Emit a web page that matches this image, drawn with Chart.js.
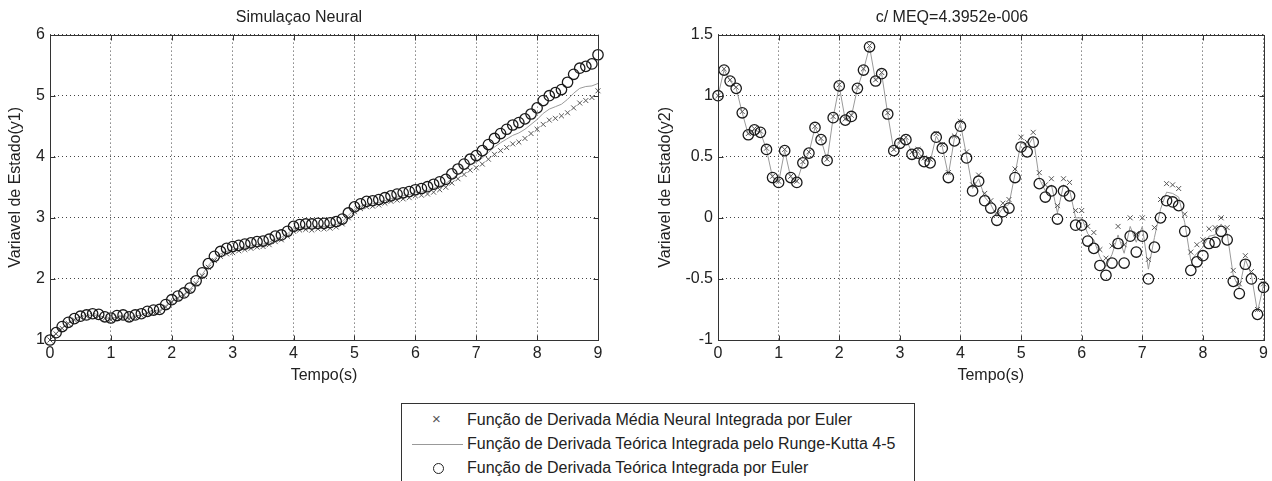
<!DOCTYPE html>
<html>
<head>
<meta charset="utf-8">
<script src="https://cdn.jsdelivr.net/npm/chart.js@4.4.0/dist/chart.umd.min.js"></script>
<style>
  body { margin: 0; background: #fff; width: 1272px; height: 481px; overflow: hidden; position: relative;
         font-family: "Liberation Sans", Arial, sans-serif; }
  #c1 { position: absolute; left: 0; top: 0; }
  #c2 { position: absolute; left: 640px; top: 0; }
  #legend { position: absolute; left: 401px; top: 403px; width: 512px; height: 90px;
            border: 1px solid #333; background: #fff; }
  .row { position: absolute; left: 0; height: 24px; width: 100%; }
  .row span.txt { position: absolute; left: 65px; top: 3px; font-size: 16px; color: #222; white-space: nowrap; }
  .sym-x { position: absolute; left: 30px; top: 2px; font-size: 15px; color: #555; }
  .sym-line { position: absolute; left: 10px; top: 12px; width: 51px; border-top: 1px solid #999; }
  .sym-o { position: absolute; left: 31px; top: 7px; width: 9px; height: 9px; border: 1.3px solid #222; border-radius: 50%; }
</style>
</head>
<body>
<canvas id="c1" width="640" height="400"></canvas>
<canvas id="c2" width="632" height="400"></canvas>
<div id="legend">
  <div class="row" style="top:4px"><span class="sym-x">×</span><span class="txt">Função de Derivada Média Neural Integrada por Euler</span></div>
  <div class="row" style="top:28px"><span class="sym-line"></span><span class="txt">Função de Derivada Teórica Integrada pelo Runge-Kutta 4-5</span></div>
  <div class="row" style="top:52px"><span class="sym-o"></span><span class="txt">Função de Derivada Teórica Integrada por Euler</span></div>
</div>
<script>
// tempo (s), passo 0.1
const tempo = [0,0.1,0.2,0.3,0.4,0.5,0.6,0.7,0.8,0.9,1,1.1,1.2,1.3,1.4,1.5,1.6,1.7,1.8,1.9,
  2,2.1,2.2,2.3,2.4,2.5,2.6,2.7,2.8,2.9,3,3.1,3.2,3.3,3.4,3.5,3.6,3.7,3.8,3.9,
  4,4.1,4.2,4.3,4.4,4.5,4.6,4.7,4.8,4.9,5,5.1,5.2,5.3,5.4,5.5,5.6,5.7,5.8,5.9,
  6,6.1,6.2,6.3,6.4,6.5,6.6,6.7,6.8,6.9,7,7.1,7.2,7.3,7.4,7.5,7.6,7.7,7.8,7.9,
  8,8.1,8.2,8.3,8.4,8.5,8.6,8.7,8.8,8.9,9];

// y1
const y1Neural = [1.00,1.10,1.19,1.27,1.33,1.37,1.39,1.40,1.39,1.35,1.33,1.36,1.37,1.34,1.37,1.40,1.44,1.45,1.46,1.54,
  1.62,1.68,1.73,1.81,1.92,2.05,2.19,2.30,2.37,2.41,2.43,2.46,2.48,2.50,2.52,2.53,2.56,2.61,2.64,2.70,
  2.78,2.80,2.81,2.80,2.82,2.82,2.83,2.85,2.90,3.00,3.10,3.15,3.18,3.19,3.21,3.24,3.27,3.29,3.31,3.33,
  3.36,3.37,3.39,3.42,3.46,3.50,3.57,3.64,3.71,3.78,3.82,3.88,3.96,4.04,4.10,4.15,4.21,4.24,4.30,4.38,
  4.45,4.53,4.60,4.63,4.67,4.72,4.80,4.88,4.92,4.97,5.08];
const y1RK = [1.00,1.11,1.20,1.28,1.34,1.38,1.40,1.41,1.40,1.37,1.34,1.38,1.39,1.36,1.39,1.41,1.45,1.47,1.48,1.56,
  1.64,1.70,1.75,1.83,1.94,2.07,2.22,2.33,2.41,2.45,2.48,2.50,2.52,2.54,2.56,2.57,2.60,2.65,2.68,2.74,
  2.82,2.84,2.85,2.85,2.86,2.86,2.87,2.89,2.94,3.04,3.14,3.19,3.22,3.23,3.25,3.28,3.31,3.34,3.36,3.38,
  3.41,3.42,3.45,3.48,3.52,3.56,3.64,3.71,3.79,3.86,3.91,3.98,4.07,4.16,4.23,4.29,4.35,4.39,4.45,4.53,
  4.61,4.71,4.78,4.82,4.86,4.94,5.04,5.12,5.15,5.16,5.20];
const y1Euler = [1.00,1.12,1.22,1.29,1.35,1.39,1.41,1.43,1.42,1.38,1.36,1.40,1.41,1.38,1.41,1.43,1.47,1.49,1.50,1.58,
  1.66,1.72,1.77,1.85,1.97,2.10,2.25,2.37,2.45,2.50,2.53,2.55,2.57,2.59,2.61,2.62,2.65,2.70,2.72,2.78,
  2.86,2.89,2.90,2.90,2.91,2.91,2.92,2.94,2.98,3.08,3.18,3.23,3.27,3.28,3.30,3.33,3.36,3.39,3.41,3.43,
  3.46,3.48,3.51,3.55,3.59,3.63,3.72,3.80,3.88,3.96,4.02,4.10,4.20,4.30,4.38,4.45,4.52,4.56,4.62,4.70,
  4.80,4.92,5.00,5.05,5.10,5.22,5.35,5.45,5.48,5.52,5.67];

// y2
const y2Neural = [1.00,1.22,1.13,1.07,0.87,0.69,0.73,0.71,0.57,0.34,0.30,0.56,0.34,0.30,0.46,0.54,0.75,0.65,0.48,0.83,
  1.09,0.81,0.84,1.07,1.22,1.41,1.13,1.19,0.86,0.56,0.63,0.66,0.54,0.56,0.49,0.48,0.69,0.60,0.37,0.67,
  0.79,0.54,0.27,0.35,0.20,0.14,0.04,0.12,0.15,0.40,0.66,0.62,0.70,0.37,0.27,0.32,0.10,0.32,0.29,0.06,
  0.06,-0.07,-0.12,-0.26,-0.33,-0.23,-0.07,-0.22,0.00,-0.13,0.00,-0.34,-0.08,0.15,0.28,0.27,0.24,0.03,-0.28,-0.22,
  -0.18,-0.09,-0.08,0.00,-0.08,-0.43,-0.54,-0.31,-0.44,-0.75,-0.54];
const y2RK = [1.00,1.21,1.12,1.06,0.86,0.68,0.72,0.70,0.56,0.33,0.29,0.55,0.33,0.29,0.45,0.53,0.74,0.64,0.47,0.82,
  1.08,0.80,0.83,1.06,1.21,1.40,1.12,1.18,0.85,0.55,0.62,0.65,0.53,0.54,0.47,0.46,0.67,0.58,0.35,0.65,
  0.77,0.51,0.24,0.32,0.17,0.11,0.01,0.08,0.11,0.36,0.62,0.58,0.66,0.32,0.22,0.27,0.04,0.27,0.23,0.00,
  0.00,-0.13,-0.18,-0.32,-0.40,-0.30,-0.14,-0.29,-0.07,-0.20,-0.07,-0.42,-0.16,0.07,0.21,0.20,0.17,-0.04,-0.35,-0.29,
  -0.24,-0.15,-0.14,-0.05,-0.13,-0.47,-0.58,-0.34,-0.47,-0.77,-0.55];
const y2Euler = [1.00,1.21,1.12,1.06,0.86,0.68,0.72,0.70,0.56,0.33,0.29,0.55,0.33,0.29,0.45,0.53,0.74,0.64,0.47,0.82,
  1.08,0.80,0.83,1.06,1.21,1.40,1.12,1.18,0.85,0.55,0.61,0.64,0.52,0.53,0.46,0.45,0.66,0.57,0.33,0.63,
  0.75,0.49,0.22,0.30,0.14,0.08,-0.02,0.05,0.08,0.33,0.58,0.54,0.62,0.28,0.17,0.22,-0.01,0.22,0.18,-0.06,
  -0.06,-0.19,-0.25,-0.39,-0.47,-0.37,-0.21,-0.37,-0.15,-0.28,-0.15,-0.50,-0.24,0.00,0.14,0.13,0.10,-0.11,-0.43,-0.36,
  -0.31,-0.21,-0.20,-0.11,-0.18,-0.52,-0.62,-0.38,-0.50,-0.79,-0.57];

const ticksX = [0,1,2,3,4,5,6,7,8,9];
const ticksY1 = [1,2,3,4,5,6];
const ticksY2 = [-1,-0.5,0,0.5,1,1.5];

const FONT = { family: '"Liberation Sans", Arial, sans-serif', size: 16 };

// caixa estilo MATLAB com marcas para dentro
const matlabBox = {
  id: 'matlabBox',
  afterDraw(chart) {
    const { ctx, chartArea: a, scales } = chart;
    const L = Math.round(a.left) + 0.5, R = Math.round(a.right) + 0.5;
    const T = Math.round(a.top) + 0.5, B = Math.round(a.bottom) + 0.5;
    ctx.save();
    ctx.strokeStyle = '#333';
    ctx.lineWidth = 1;
    ctx.setLineDash([]);
    ctx.strokeRect(L, T, R - L, B - T);
    ctx.beginPath();
    scales.x.ticks.forEach(t => {
      const px = Math.round(scales.x.getPixelForValue(t.value)) + 0.5;
      ctx.moveTo(px, B); ctx.lineTo(px, B - 5);
      ctx.moveTo(px, T); ctx.lineTo(px, T + 5);
    });
    scales.y.ticks.forEach(t => {
      const py = Math.round(scales.y.getPixelForValue(t.value)) + 0.5;
      ctx.moveTo(L, py); ctx.lineTo(L + 5, py);
      ctx.moveTo(R, py); ctx.lineTo(R - 5, py);
    });
    ctx.stroke();
    ctx.restore();
  }
};

function makeChart(id, title, yLabel, neural, rk, euler, yTicks, yAxisW, padRight, yTitlePad) {
  const pts = arr => arr.map((v, i) => ({ x: tempo[i], y: v }));
  return new Chart(document.getElementById(id), {
    type: 'line',
    data: {
      datasets: [
        { label: 'Euler', data: pts(euler), showLine: false, pointStyle: 'circle', pointRadius: 5.2,
          pointBorderColor: '#1a1a1a', pointBackgroundColor: 'rgba(0,0,0,0)', pointBorderWidth: 1.3, clip: false },
        { label: 'Neural', data: pts(neural), showLine: false, pointStyle: 'crossRot', pointRadius: 3.5,
          pointBorderColor: '#555', pointBorderWidth: 1, clip: false },
        { label: 'RK45', data: pts(rk), borderColor: '#9a9a9a', borderWidth: 1, pointRadius: 0, tension: 0, clip: false }
      ]
    },
    options: {
      responsive: false,
      animation: false,
      events: [],
      layout: { padding: { top: 0, left: 0, right: padRight, bottom: 0 } },
      plugins: {
        legend: { display: false },
        tooltip: { enabled: false },
        title: { display: true, text: title, color: '#222', font: { ...FONT, weight: 'normal' },
                 padding: { top: 8, bottom: 7.4 } }
      },
      scales: {
        x: {
          type: 'linear', min: 0, max: 9,
          afterBuildTicks: s => { s.ticks = ticksX.map(v => ({ value: v })); },
          afterFit: s => { s.height = 60; },
          ticks: { color: '#222', font: FONT, padding: 4, maxRotation: 0, callback: v => String(v) },
          grid: { color: '#444', lineWidth: 1, drawTicks: false },
          border: { display: false, dash: [1, 3] },
          title: { display: true, text: 'Tempo(s)', color: '#222', font: FONT, padding: { top: 0, bottom: 15 } }
        },
        y: {
          type: 'linear', min: yTicks[0], max: yTicks[yTicks.length - 1],
          afterBuildTicks: s => { s.ticks = yTicks.map(v => ({ value: v })); },
          afterFit: s => { s.width = yAxisW; },
          ticks: { color: '#222', font: FONT, padding: 5, callback: v => String(v) },
          grid: { color: '#444', lineWidth: 1, drawTicks: false },
          border: { display: false, dash: [1, 3] },
          title: { display: true, text: yLabel, color: '#222', font: FONT, padding: { top: yTitlePad + 2, bottom: 0 } }
        }
      }
    },
    plugins: [matlabBox]
  });
}

makeChart('c1', 'Simulaçao Neural', 'Variavel de Estado(y1)', y1Neural, y1RK, y1Euler, ticksY1, 50, 42, 4);
makeChart('c2', 'c/ MEQ=4.3952e-006', 'Variavel de Estado(y2)', y2Neural, y2RK, y2Euler, ticksY2, 78, 8, 14);
</script>
</body>
</html>
